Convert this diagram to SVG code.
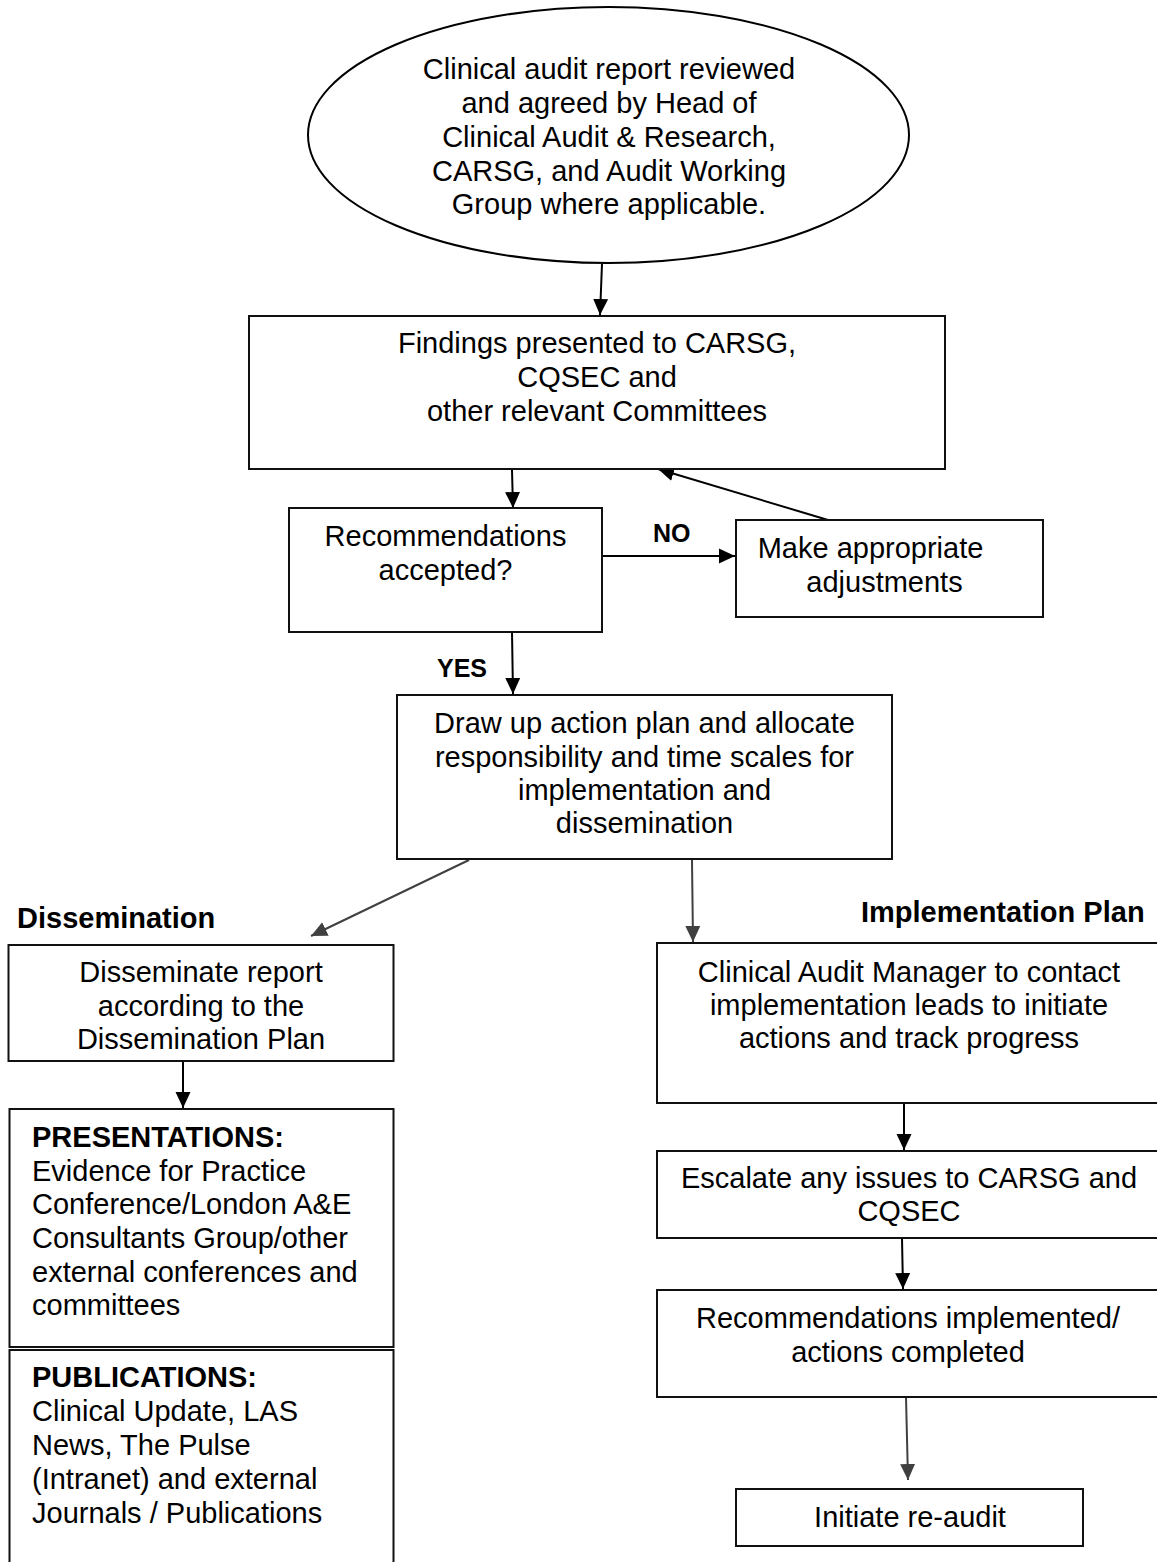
<svg xmlns="http://www.w3.org/2000/svg" width="1157" height="1562" viewBox="0 0 1157 1562">
<style>
text{font-family:"Liberation Sans",Arial,sans-serif;font-size:29px;fill:#000}
.c{text-anchor:middle}
.b{font-weight:bold}
.s{font-size:25px}
.box{fill:#fff;stroke:#111;stroke-width:2}
.ln{fill:none;stroke:#000;stroke-width:2}
.lg{fill:none;stroke:#404040;stroke-width:2}
</style>
<defs>
<marker id="ah" markerUnits="userSpaceOnUse" markerWidth="16" markerHeight="16" viewBox="0 0 16 16" refX="16" refY="8" orient="auto"><path d="M0,0.5 L16,8 L0,15.5 z" fill="#000"/></marker>
<marker id="ahg" markerUnits="userSpaceOnUse" markerWidth="16" markerHeight="16" viewBox="0 0 16 16" refX="16" refY="8" orient="auto"><path d="M0,0.5 L16,8 L0,15.5 z" fill="#404040"/></marker>
</defs>
<rect width="1157" height="1562" fill="#fff"/>

<g id="connectors">
<line class="ln" x1="602" y1="264" x2="600" y2="315" marker-end="url(#ah)"/>
<line class="ln" x1="512" y1="470" x2="513" y2="508" marker-end="url(#ah)"/>
<line class="ln" x1="603" y1="556" x2="735" y2="556" marker-end="url(#ah)"/>
<line class="ln" x1="828" y1="520" x2="658" y2="469" marker-end="url(#ah)"/>
<line class="ln" x1="512" y1="632" x2="513" y2="694" marker-end="url(#ah)"/>
<line class="lg" x1="469" y1="860" x2="311" y2="936" marker-end="url(#ahg)"/>
<line class="lg" x1="692" y1="860" x2="693" y2="942" marker-end="url(#ahg)"/>
<line class="ln" x1="183" y1="1062" x2="183" y2="1108" marker-end="url(#ah)"/>
<line class="ln" x1="904" y1="1104" x2="904" y2="1150" marker-end="url(#ah)"/>
<line class="ln" x1="902" y1="1238" x2="903" y2="1289" marker-end="url(#ah)"/>
<line class="lg" x1="906" y1="1397" x2="908" y2="1480" marker-end="url(#ahg)"/>
<text class="b s" x="653" y="542">NO</text>
<text class="b s" x="437" y="677">YES</text>
</g>

<g id="start">
<ellipse cx="608.5" cy="135" rx="300.5" ry="128" fill="#fff" stroke="#000" stroke-width="2"/>
<text class="c" x="609" y="79">Clinical audit report reviewed</text>
<text class="c" x="609" y="113">and agreed by Head of</text>
<text class="c" x="609" y="147">Clinical Audit &amp; Research,</text>
<text class="c" x="609" y="181">CARSG, and Audit Working</text>
<text class="c" x="609" y="214">Group where applicable.</text>
</g>

<g id="findings">
<rect class="box" x="249" y="316" width="696" height="153"/>
<text class="c" x="597" y="353">Findings presented to CARSG,</text>
<text class="c" x="597" y="387">CQSEC and</text>
<text class="c" x="597" y="421">other relevant Committees</text>
</g>

<g id="accepted">
<rect class="box" x="289" y="508" width="313" height="124"/>
<text class="c" x="445.5" y="546">Recommendations</text>
<text class="c" x="445.5" y="580">accepted?</text>
</g>

<g id="adjust">
<rect class="box" x="736" y="520" width="307" height="97"/>
<text class="c" x="870.5" y="558">Make appropriate</text>
<text class="c" x="884.5" y="592">adjustments</text>
</g>

<g id="actionplan">
<rect class="box" x="397" y="695" width="495" height="164"/>
<text class="c" x="644.5" y="733">Draw up action plan and allocate</text>
<text class="c" x="644.5" y="767">responsibility and time scales for</text>
<text class="c" x="644.5" y="800">implementation and</text>
<text class="c" x="644.5" y="833">dissemination</text>
</g>

<g id="dissemination-label"><text class="b" x="17" y="928">Dissemination</text></g>
<g id="implementation-label"><text class="b" x="861" y="922">Implementation Plan</text></g>

<g id="disseminate">
<rect class="box" x="8.5" y="945" width="385" height="116"/>
<text class="c" x="201" y="982">Disseminate report</text>
<text class="c" x="201" y="1016">according to the</text>
<text class="c" x="201" y="1049">Dissemination Plan</text>
</g>

<g id="presentations">
<rect class="box" x="9.5" y="1109" width="384" height="238"/>
<text class="b" x="32" y="1147">PRESENTATIONS:</text>
<text x="32" y="1181">Evidence for Practice</text>
<text x="32" y="1214">Conference/London A&amp;E</text>
<text x="32" y="1248">Consultants Group/other</text>
<text x="32" y="1282">external conferences and</text>
<text x="32" y="1315">committees</text>
</g>

<g id="publications">
<rect class="box" x="9.5" y="1350" width="384" height="230"/>
<text class="b" x="32" y="1387">PUBLICATIONS:</text>
<text x="32" y="1421">Clinical Update, LAS</text>
<text x="32" y="1455">News, The Pulse</text>
<text x="32" y="1489">(Intranet) and external</text>
<text x="32" y="1523">Journals / Publications</text>
</g>

<g id="manager">
<rect class="box" x="657" y="943" width="504" height="160"/>
<text class="c" x="909" y="982">Clinical Audit Manager to contact</text>
<text class="c" x="909" y="1015">implementation leads to initiate</text>
<text class="c" x="909" y="1048">actions and track progress</text>
</g>

<g id="escalate">
<rect class="box" x="657" y="1151" width="504" height="87"/>
<text class="c" x="909" y="1188">Escalate any issues to CARSG and</text>
<text class="c" x="909" y="1221">CQSEC</text>
</g>

<g id="implemented">
<rect class="box" x="657" y="1290" width="504" height="107"/>
<text class="c" x="908" y="1328">Recommendations implemented/</text>
<text class="c" x="908" y="1362">actions completed</text>
</g>

<g id="reaudit">
<rect class="box" x="736" y="1489" width="347" height="57"/>
<text class="c" x="910" y="1527">Initiate re-audit</text>
</g>
</svg>
